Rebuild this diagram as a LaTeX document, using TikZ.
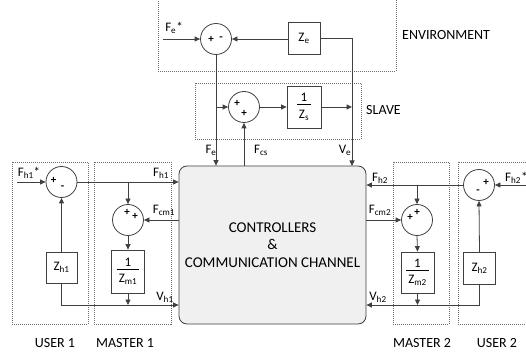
\documentclass[tikz,border=0pt]{standalone}
\usepackage{fontspec}
\setmainfont{Carlito}
\usetikzlibrary{arrows.meta}
\definecolor{ln}{HTML}{404040}
\definecolor{dbox}{HTML}{6E6E6E}
\definecolor{ccfill}{HTML}{F0F0F0}
\newcommand{\myfrac}[1]{\begin{tabular}{@{\,}c@{\,}}1\\[-2pt]\hline\rule{0pt}{14pt}#1\end{tabular}}
\begin{document}
\begin{tikzpicture}[x=1pt,y=-1pt,
 wire/.style={draw=ln, line width=0.8pt},
 arr/.style={wire,-{Triangle[length=5.5pt,width=5pt]}},
 sumc/.style={circle, draw=ln, line width=0.8pt, minimum size=31pt, inner sep=0pt},
 blk/.style={draw=ln, line width=0.8pt, inner sep=0pt, font=\fontsize{13}{15}\selectfont},
 grp/.style={draw=dbox, dash pattern=on 1pt off 1pt, line width=0.6pt},
 lbl/.style={font=\fontsize{13}{15}\selectfont, inner sep=0pt, text=black},
 sg/.style={font=\fontsize{11}{12}\selectfont\bfseries, inner sep=0pt},
 ttl/.style={font=\fontsize{14}{16}\selectfont, inner sep=0pt}]
\useasboundingbox (0,0) rectangle (526,352);
% group boxes
\draw[grp] (158,-5) rectangle (396,71);
\draw[grp] (195,83) rectangle (361,139);
\draw[grp] (12,162) rectangle (88,324);
\draw[grp] (94,162) rectangle (171,324);
\draw[grp] (393,162) rectangle (449,324);
\draw[grp] (458,162) rectangle (532,324);
% main box
\node[draw=ln, fill=ccfill, line width=0.8pt, rounded corners=8pt, minimum width=187pt, minimum height=158pt,
  align=center, font=\fontsize{15}{17.5}\selectfont] (cc) at (272.5,245)
  {CONTROLLERS\\\&\\COMMUNICATION CHANNEL};
% environment
\node[sumc] (se) at (216,39) {};
\node[sg] (se1) at ([xshift=-5pt]se.center) {+};
\node[sg] (se2) at ([xshift=5pt]se.center) {-};
\node[blk, minimum size=32pt] (ze) at (304,38) {Z\textsubscript{e}};
\coordinate (fein) at (163,39);
\draw[arr] (fein) -- (se.west);
\draw[arr] (ze.west |- se.east) -- (se.east);
\coordinate (vetop) at (352,166);
\draw[arr] (ze.east) -| (vetop);
\draw[arr] (se.south) -- (se.south |- cc.north);
% slave
\node[sumc] (ss) at (244,107) {};
\node[sg] (ss1) at ([xshift=-7pt,yshift=4pt]ss.center) {+};
\node[sg] (ss2) at ([yshift=-6pt]ss.center) {+};
\node[blk, minimum width=34pt, minimum height=42pt] (zs) at (304,107) {\myfrac{Z\textsubscript{s}}};
\coordinate (feb) at (216,107);
\coordinate (vem) at (352,107);
\draw[arr] (feb) -- (ss.west);
\draw[arr] (ss.east) -- (zs.west);
\draw[arr] (zs.east) -- (vem);
\draw[arr] (ss.south |- cc.north) -- (ss.south);
% user 1 / master 1
\node[sumc] (s1) at (61.5,182) {};
\node[sg] (s1a) at ([xshift=-8pt,yshift=2pt]s1.center) {+};
\node[sg] (s1b) at ([xshift=1pt,yshift=-6pt]s1.center) {-};
\coordinate (fh1in) at (17,182);
\draw[arr] (fh1in) -- (s1.west);
\draw[arr] (s1.east) -- (s1.east -| cc.west);
\coordinate (b1) at (128,182);
\node[sumc] (m1) at (128,220) {};
\node[sg] (m1a) at ([xshift=-1pt,yshift=8pt]m1.center) {+};
\node[sg] (m1b) at ([xshift=7pt,yshift=4pt]m1.center) {+};
\draw[arr] (b1) -- (m1.north);
\draw[arr] (cc.west |- m1.east) -- (m1.east);
\node[blk, minimum width=33pt, minimum height=43pt] (zm1) at (128,271.5) {\myfrac{Z\textsubscript{m1}}};
\draw[arr] (m1.south) -- (zm1.north);
\node[blk, minimum size=31pt] (zh1) at (61.5,267.5) {Z\textsubscript{h1}};
\draw[arr] (zh1.north) -- (s1.south);
\path (cc.west) ++(0,60) coordinate (vh1);
\draw[arr] (zh1.south) |- (vh1);
\draw[arr] (zm1.south) -- (zm1.south |- vh1);
% master 2 / user 2
\node[sumc] (s2) at (479,185) {};
\node[sg] (s2a) at ([xshift=7pt,yshift=3pt]s2.center) {+};
\node[sg] (s2b) at ([xshift=-1pt,yshift=-7pt]s2.center) {-};
\coordinate (fh2in) at (526,185);
\draw[arr] (fh2in) -- (s2.east);
\draw[arr] (s2.west) -- (s2.west -| cc.east);
\coordinate (b2) at (417,185);
\node[sumc] (m2) at (417,220) {};
\node[sg] (m2a) at ([xshift=-7pt,yshift=3pt]m2.center) {+};
\node[sg] (m2b) at ([xshift=0pt,yshift=8pt]m2.center) {+};
\draw[arr] (b2) -- (m2.north);
\draw[arr] (cc.east |- m2.west) -- (m2.west);
\node[blk, minimum width=33pt, minimum height=41pt] (zm2) at (417.5,272.5) {\myfrac{Z\textsubscript{m2}}};
\draw[arr] (m2.south) -- (zm2.north);
\node[blk, minimum size=32pt] (zh2) at (479.5,268.5) {Z\textsubscript{h2}};
\draw[arr] (zh2.north) -- (s2.south);
\path (cc.east) ++(0,60) coordinate (vh2);
\draw[arr] (zh2.south) |- (vh2);
\draw[arr] (zm2.south) -- (zm2.south |- vh2);
% labels
\node[lbl] (lfe) at (174,28) {F\textsubscript{e}*};
\node[lbl] (lfe2) at (211,150) {F\textsubscript{e}};
\node[lbl] (lfcs) at (261,150) {F\textsubscript{cs}};
\node[lbl] (lve) at (345,150) {V\textsubscript{e}};
\node[lbl] (lfh1s) at (29,173) {F\textsubscript{h1}*};
\node[lbl] (lfh1) at (161,173) {F\textsubscript{h1}};
\node[lbl] (lfcm1) at (164,210) {F\textsubscript{cm1}};
\node[lbl] (lvh1) at (165,297) {V\textsubscript{h1}};
\node[lbl] (lfh2) at (380,178) {F\textsubscript{h2}};
\node[lbl] (lfcm2) at (380,210) {F\textsubscript{cm2}};
\node[lbl] (lvh2) at (378,297) {V\textsubscript{h2}};
\node[lbl, anchor=west] (lfh2s) at (505,178) {F\textsubscript{h2}*};
% titles
\node[ttl, anchor=west] (tenv) at (402,35) {ENVIRONMENT};
\node[ttl, anchor=west] (tsl) at (366,110) {SLAVE};
\node[ttl] (tu1) at (55,343) {USER 1};
\node[ttl] (tm1) at (125,343) {MASTER 1};
\node[ttl] (tm2) at (422,343) {MASTER 2};
\node[ttl] (tu2) at (497,343) {USER 2};
\end{tikzpicture}
\end{document}
